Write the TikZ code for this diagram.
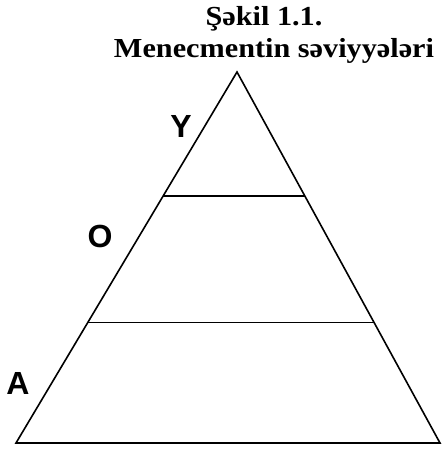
\documentclass[tikz,border=0pt]{standalone}
\usepackage{fontspec}
\setmainfont{Liberation Serif}
\setsansfont{Liberation Sans}
\newfontfamily\titlefont[FakeStretch=1.1]{Liberation Serif}
\usetikzlibrary{calc}
\begin{document}
\begin{tikzpicture}[x=1pt,y=-1pt,
  edge/.style={line width=1.6pt,line join=miter},
  lvl/.style={font=\sffamily\bfseries\fontsize{32}{32}\selectfont,inner sep=0pt},
  ttl/.style={font=\titlefont\bfseries\fontsize{27.5}{27.5}\selectfont,inner sep=0pt,anchor=base}]
\useasboundingbox (0,0) rectangle (443,452);
\coordinate (apex) at (237,72);
\coordinate (bl) at (16,443);
\coordinate (br) at (440,443);
\coordinate (l1) at ($(apex)!0.335!(bl)$);
\coordinate (r1) at ($(apex)!0.335!(br)$);
\coordinate (l2) at ($(apex)!0.675!(bl)$);
\coordinate (r2) at ($(apex)!0.675!(br)$);
\draw[edge] (apex) -- (bl) -- (br) -- cycle;
\draw[edge] (l1) -- (r1);
\draw[edge] (l2) -- (r2);
\node[ttl] (t1) at (264,26) {Şəkil 1.1.};
\node[ttl] (t2) at (274,58) {Menecmentin səviyyələri};
\node[lvl] (y) at (181,126) {Y};
\node[lvl] (o) at (100,236) {O};
\node[lvl] (a) at (18,383) {A};
\end{tikzpicture}
\end{document}
